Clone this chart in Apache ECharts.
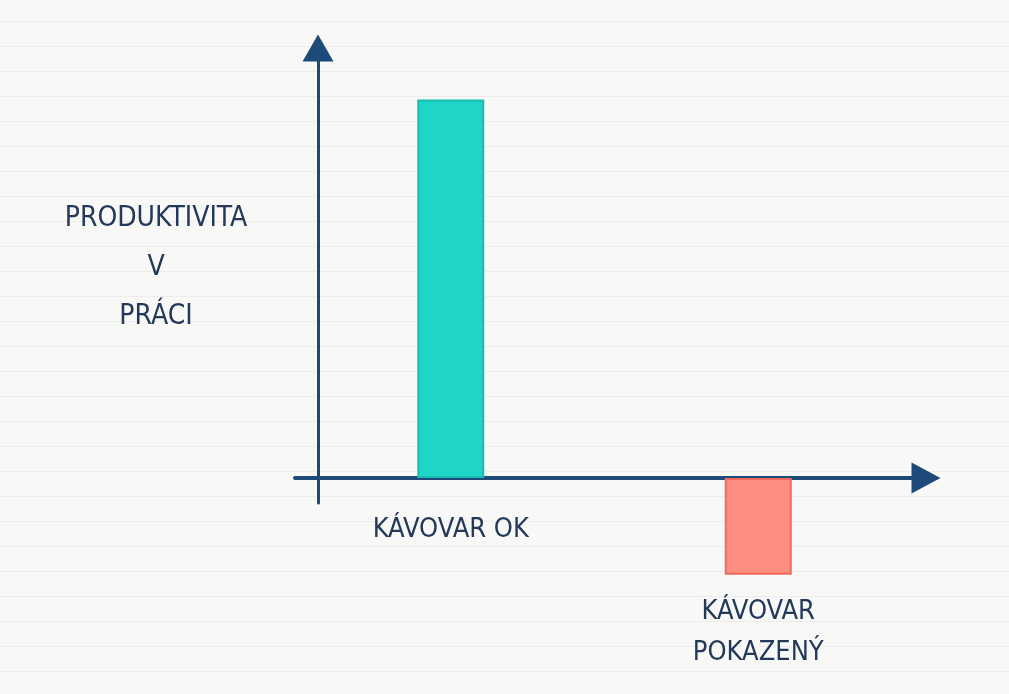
<html>
	<head>
		<meta http-equiv="content-type" content="text/html; charset=utf-8">
		<script src="https://cdn.jsdelivr.net/npm/echarts@6/dist/echarts.min.js"></script>
		<style>
			html, body { width: 100%; height: 100%; margin: 0; padding: 0; }
			body {
				background-color: #f8f8f7;
				background-image: repeating-linear-gradient(to bottom, transparent 0px, transparent 21px, #ededec 21px, #ededec 22px, transparent 22px, transparent 25px);
			}
			#chart { width: 1009px; height: 694px; }
		</style>
		<title>Produktivita v práci</title>
	</head>
	<body>
		<div id="chart"></div>
		<script type="text/javascript">
///////////////////////////////////////////////////////////////////////////////
// data
var categories = ['KÁVOVAR OK', 'KÁVOVAR\nPOKAZENÝ'];
var values = [88, -22.5];
var bar_colors = ['#1ed5c8', '#ff8d82'];
var bar_borders = ['#19bcb0', '#f06b5b'];
var y_title = 'PRODUKTIVITA\nV\nPRÁCI';

var y_min = -5.8;
var y_max = 100;

///////////////////////////////////////////////////////////////////////////////
var ink = '#1d4a78';
var text_ink = '#23395a';
var font = "'Liberation Sans Narrow', 'DejaVu Sans Condensed', sans-serif";

var chart = echarts.init(document.getElementById('chart'), null, {renderer: 'canvas'});

var option = {
	backgroundColor: 'transparent',
	grid: [
		// bars
		{left: 297, right: 97, top: 48, bottom: 191, outerBoundsMode: 'none', containLabel: false},
		// axis frame with arrows
		{left: 295, right: 83, top: 48, bottom: 191, outerBoundsMode: 'none', containLabel: false},
	],
	xAxis: [
		{
			gridIndex: 0,
			type: 'category',
			data: categories,
			axisLine: {show: true, onZero: true, lineStyle: {opacity: 0}},
			axisTick: {show: false},
			axisLabel: {
				margin: 6,
				color: text_ink,
				fontFamily: font,
				fontSize: 27,
				lineHeight: 41,
				formatter: function(v, i) {
					// label sits under the bar when the bar goes down
					return values[i] < 0 ? '\n\n' + v : v;
				}
			},
		},
		{
			gridIndex: 1,
			type: 'value',
			min: 0, max: 1,
			axisLine: {show: true, onZero: true, symbol: ['none', 'triangle'], symbolSize: [31, 29],
				lineStyle: {color: ink, width: 4}},
			axisTick: {show: false},
			axisLabel: {show: false},
			splitLine: {show: false},
		},
	],
	yAxis: [
		{
			gridIndex: 0,
			type: 'value',
			min: y_min, max: y_max,
			axisLine: {show: false},
			axisTick: {show: false},
			axisLabel: {show: false},
			splitLine: {show: false},
		},
		{
			gridIndex: 1,
			type: 'value',
			min: y_min, max: y_max,
			offset: -23,
			axisLine: {show: true, symbol: ['none', 'triangle'], symbolSize: [31, 27],
				lineStyle: {color: ink, width: 3}},
			axisTick: {show: false},
			axisLabel: {show: false},
			splitLine: {show: false},
		},
	],
	graphic: [{
		type: 'text',
		x: 156,
		y: 194,
		style: {
			text: y_title,
			fill: text_ink,
			font: '28px ' + font,
			align: 'center',
			textAlign: 'center',
			lineHeight: 49,
		},
	}],
	series: [{
		type: 'bar',
		xAxisIndex: 0,
		yAxisIndex: 0,
		barWidth: 67,
		clip: false,
		z: 1,
		data: values.map(function(v, i) {
			return {value: v, itemStyle: {color: bar_colors[i], borderColor: bar_borders[i], borderWidth: 2}};
		}),
	}],
};

chart.setOption(option);
		</script>
	</body>
</html>
